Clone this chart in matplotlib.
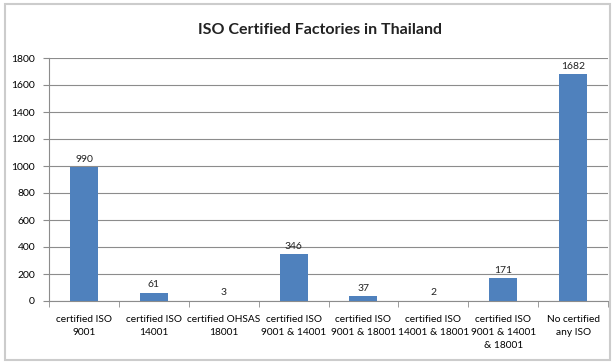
import numpy as np
import matplotlib.pyplot as plt
from matplotlib.patches import Rectangle

categories = ['certified ISO\n9001', 'certified ISO\n14001', 'certified OHSAS\n18001',
              'certified ISO\n9001 & 14001', 'certified ISO\n9001 & 18001',
              'certified ISO\n14001 & 18001', 'certified ISO\n9001 & 14001\n& 18001',
              'No certified\nany ISO']
counts = [990, 61, 3, 346, 37, 2, 171, 1682]
yticks = [0, 200, 400, 600, 800, 1000, 1200, 1400, 1600, 1800]

plt.rcParams['font.family'] = ['Lato', 'DejaVu Sans']

fig = plt.figure(figsize=(6.16, 3.62), dpi=100)
fig.patches.append(Rectangle((5/616, 2/362), 605/616, 356/362, transform=fig.transFigure,
                             fill=False, edgecolor='#cccccc', linewidth=1.5))
ax = fig.add_axes([49/616, 1-301/362, 559/616, 243/362])

x = np.arange(len(categories))
bar_color = '#4f81bd'
ax.bar(x, counts, width=0.4, color=bar_color, zorder=3)
for xi, v in zip(x, counts):
    ax.text(xi, v + 25, str(v), ha='center', va='bottom', fontsize=7.5, color='#222222')

ax.set_xlim(-0.5, len(categories) - 0.5)
ax.set_ylim(0, 1800)
ax.set_yticks(yticks)
ax.set_yticklabels([str(t) for t in yticks], fontsize=7.5)
ax.yaxis.grid(True, color='#8c8c8c', linewidth=0.8, zorder=0)

ax.set_xticks(x)
ax.set_xticklabels(categories, fontsize=7.3, linespacing=1.6)
ax.set_xticks(np.arange(len(categories) + 1) - 0.5, minor=True)
ax.tick_params(axis='x', which='major', length=0, pad=10)
ax.tick_params(axis='x', which='minor', length=4, color='#8c8c8c')
ax.tick_params(axis='y', length=4, color='#8c8c8c', pad=6)

for s in ['top', 'right']:
    ax.spines[s].set_visible(False)
for s in ['left', 'bottom']:
    ax.spines[s].set_color('#8c8c8c')

fig.text(320/616, 1 - 30/362, 'ISO Certified Factories in Thailand', ha='center', va='center',
         fontsize=11.5, fontweight='bold', color='#222222')

fig.savefig('out.png', dpi=100)
